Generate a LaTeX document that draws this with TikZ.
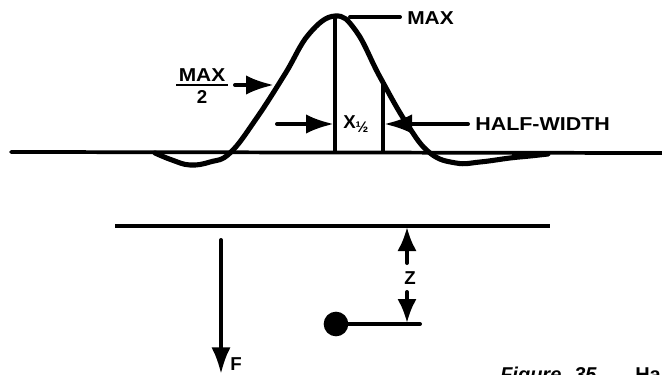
\documentclass[tikz,border=0pt]{standalone}
\usepackage{fontspec}
\setmainfont{Liberation Sans}
\usetikzlibrary{arrows.meta}
\newcommand{\widetxt}[2][1.12]{\scalebox{#1}[1]{\bfseries #2}}
\tikzset{
  x=0.75pt,y=-0.75pt,
  lbl/.style={inner sep=0pt,font=\bfseries\fontsize{14pt}{14pt}\selectfont,text=black},
  curve/.style={line width=3.8pt,line join=round,line cap=round},
  base/.style={line width=2.8pt,line cap=round},
  lead/.style={line width=3pt,line cap=round},
  arr/.style={lead,-{Latex[length=#1,width=14.5pt]}},
  arr/.default=21pt,
  capt/.style={anchor=base west,inner sep=0pt,font=\bfseries\fontsize{15pt}{16pt}\selectfont}
}
\begin{document}
\begin{tikzpicture}
\useasboundingbox (0,0) rectangle (662,375);
\clip (0,0) rectangle (662,375);
\fill[white] (0,0) rectangle (662,375);
% named points
\coordinate (bl) at (11,152);
\coordinate (br) at (662,153);
\coordinate (peak) at (335,17);
\coordinate (foot1) at (335,152);
\coordinate (top2) at (383,84);
\coordinate (foot2) at (383,152);
\coordinate (m1) at (350,17);
\coordinate (m2) at (400,17);
\coordinate (h2s) at (468,124);
\coordinate (h2e) at (384,124);
\coordinate (x1s) at (277,124);
\coordinate (x1e) at (334,124);
\coordinate (m2s) at (235,85);
\coordinate (m2e) at (274,85);
\coordinate (rl) at (176,85);
\coordinate (rr) at (228,85);
\coordinate (sl) at (115,226);
\coordinate (sr) at (550,226);
\coordinate (fs) at (221,240);
\coordinate (fe) at (221,374);
\coordinate (zup) at (407,227);
\coordinate (zups) at (407,263);
\coordinate (zdns) at (407,292);
\coordinate (zdn) at (407,323);
\coordinate (lend) at (420,324);
% baseline and curve
\draw[base] (bl) -- (br);
\draw[curve] plot[smooth,tension=0.7] coordinates {
 (155,153) (172,160) (190,165) (210,162) (230,153) (256,119) (285,74)
 (309,34) (335,16) (356,31) (380,77) (407,124)
 (430,153) (456,163) (480,162) (510,158) (530,156) (548,154)};
\fill (512,153) -- (548,153) -- (548,155) -- (512,159) -- cycle;
% verticals
\draw[base] (peak) -- (foot1);
\draw[base] (top2) -- (foot2);
% leaders
\draw[lead] (m1) -- (m2);
\draw[arr] (h2s) -- (h2e);
\draw[arr] (x1s) -- (x1e);
\draw[arr] (m2s) -- (m2e);
\node[lbl,anchor=west] (maxl) at (407,18) {\widetxt{MAX}};
\node[lbl,anchor=west] (hw) at (475,124) {\widetxt[1.15]{HALF-WIDTH}};
% MAX/2
\node[lbl] (mx) at (202,75) {\widetxt{MAX}};
\draw[line width=1.8pt] (rl) -- (rr);
\node[lbl] (two) at (202,97) {2};
% X 1/2
\node[lbl,anchor=west] (xh) at (343,124) {X\raisebox{-2.5pt}{\fontsize{11.5pt}{11.5pt}\selectfont\bfseries ½}};
% lower part
\draw[line width=3.6pt] (sl) -- (sr);
\draw[arr=20pt] (fs) -- (fe);
\node[lbl,anchor=west] (fl) at (230,364) {F};
\draw[arr=18pt] (zups) -- (zup);
\node[lbl] (zl) at (410,278) {Z};
\draw[arr=18pt] (zdns) -- (zdn);
\node[circle,fill=black,inner sep=0pt,minimum size=18.5pt] (ball) at (336,324) {};
\draw[lead] (ball) -- (lend);
% caption, cut off by the page edge as in the reference
\node[capt,font=\bfseries\itshape\fontsize{15pt}{16pt}\selectfont] (cap1) at (500,381) {Figure};
\node[capt,font=\bfseries\itshape\fontsize{15pt}{16pt}\selectfont] (cap3) at (574,381) {35};
\node[capt] (cap2) at (635,381) {Ha};
\end{tikzpicture}
\end{document}
